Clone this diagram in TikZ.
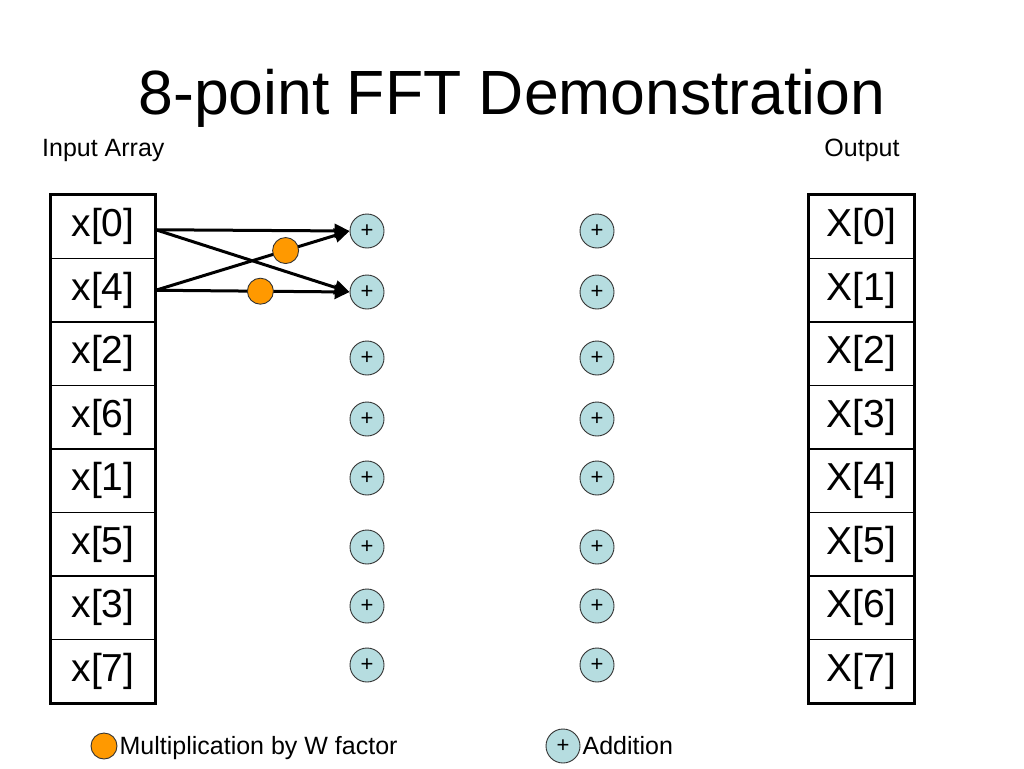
\documentclass[tikz,border=0pt]{standalone}
\usepackage{fontspec}
\setmainfont{Liberation Sans}
\usetikzlibrary{arrows.meta}
\definecolor{addblue}{RGB}{182,221,224}
\definecolor{mulorange}{RGB}{255,153,0}

\begin{document}
\begin{tikzpicture}[x=1pt,y=-1pt,
            cell/.style={draw,line width=1.5pt,minimum width=104pt,minimum height=63.5pt,
              inner sep=0pt,font=\fontsize{39}{44}\selectfont},
            adder/.style={draw=black!80,line width=0.9pt,fill=addblue,circle,minimum size=34pt,
              inner sep=0pt,font=\fontsize{22}{24}\selectfont},
            mult/.style={draw=black!80,line width=0.9pt,fill=mulorange,circle,minimum size=26pt,inner sep=0pt},
            smalltext/.style={font=\fontsize{25}{28}\selectfont,inner sep=2pt},
            arrow/.style={line width=3pt,-{Triangle[length=15pt,width=14pt]}}
          ]
          \useasboundingbox (0,0) rectangle (1024,768);

          \node[font=\fontsize{62.5}{70}\selectfont] (title) at (512,98) {8-point FFT Demonstration};
          \node[smalltext,anchor=west] (inlabel) at (40,150) {Input Array};
          \node[smalltext] (outlabel) at (862,150) {Output};

          % input and output arrays
          \foreach \v [count=\i from 0] in {0,4,2,6,1,5,3,7}
            \node[cell] (in\i) at (103,226.75+63.5*\i) {x[\v]};
          \foreach \i in {0,...,7}
            \node[cell] (out\i) at (861.5,226.75+63.5*\i) {X[\i]};
          \draw[line width=3pt] (in0.north west) rectangle (in7.south east);
          \draw[line width=3pt] (out0.north west) rectangle (out7.south east);

          % adders
          \foreach \y [count=\i from 0] in {231,292,358,419,478,547,606,665} {
            \node[adder] (a\i) at (367,\y) {+};
            \node[adder] (b\i) at (597,\y) {+};
          }

          % first butterfly
          \draw[arrow] ([yshift=-3pt]in0.east) -- (a0.west);
          \draw[arrow] ([yshift=-3pt]in0.east) -- (a1.west);
          \draw[arrow] (in1.east) -- node[mult,pos=0.67] (m0) {} (a0.west);
          \draw[arrow] (in1.east) -- node[mult,pos=0.54] (m1) {} (a1.west);

          % legend
          \node[mult] (legmult) at (104,746) {};
          \node[smalltext,anchor=west] (legmulttext) at ([yshift=-2pt]legmult.east) {Multiplication by W factor};
          \node[adder] (legadd) at (563,746) {+};
          \node[smalltext,anchor=west] (legaddtext) at (legadd.east) {Addition};
          \end{tikzpicture}
\end{document}
